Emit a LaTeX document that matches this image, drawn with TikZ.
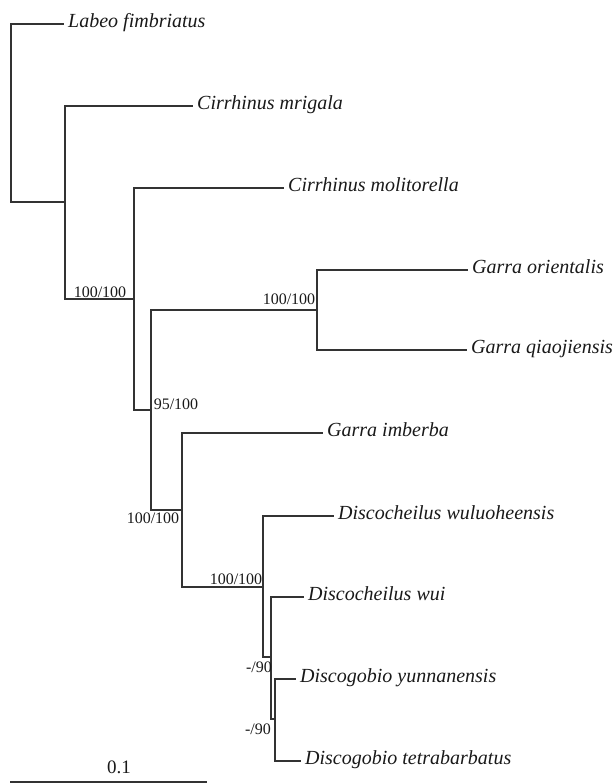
\documentclass[tikz,border=0pt]{standalone}
\usepackage{fontspec}
\setmainfont{Liberation Serif}

\tikzset{
	branch/.style={draw=black!80, line width=1.3pt, line cap=rect},
	leaf/.style={anchor=west, inner sep=5pt, text=black!90, font=\fontsize{20}{24}\selectfont\itshape, text height=12pt, text depth=5pt},
	support/.style={inner sep=0pt, text=black!90, font=\fontsize{16}{18}\selectfont, text height=10.9pt, text depth=0pt},
}

\begin{document}
\begin{tikzpicture}[x=1pt, y=-1pt]
		\useasboundingbox (0,0) rectangle (615,783);
		
		% 内部节点
		\coordinate (root) at (11,113);
		\coordinate (nA) at (65,202);
		\coordinate (nB) at (134,299);
		\coordinate (nC) at (151,410);
		\coordinate (nD) at (317,310);
		\coordinate (nE) at (182,510);
		\coordinate (nF) at (263,587);
		\coordinate (nG) at (271,657);
		\coordinate (nH) at (275,719);
		
		% 物种名
		\foreach \name/\x/\y/\txt in {labeo/63/24/Labeo fimbriatus, mrigala/192/106/Cirrhinus mrigala, molitorella/283/188/Cirrhinus molitorella, orientalis/467/270/Garra orientalis, qiaojiensis/466/350/Garra qiaojiensis, imberba/322/433/Garra imberba, wuluoheensis/333/516/Discocheilus wuluoheensis, wui/303/597/Discocheilus wui, yunnanensis/295/679/Discogobio yunnanensis, tetrabarbatus/300/761/Discogobio tetrabarbatus} {
			\node[leaf] (\name) at (\x,\y) {\txt};
		}
		
		% 分支
		\foreach \p/\c in {root/labeo, root/nA, nA/mrigala, nA/nB, nB/molitorella, nB/nC, nC/nD, nC/nE, nD/orientalis, nD/qiaojiensis, nE/imberba, nE/nF, nF/wuluoheensis, nF/nG, nG/wui, nG/nH, nH/yunnanensis, nH/tetrabarbatus} {
			\draw[branch] (\p) |- (\c);
		}
		
		% 支持率
		\node[support] (sA) at (100,292) {100/100};
		\node[support] (sB) at (176,404) {95/100};
		\node[support] (sC) at (153,518) {100/100};
		\node[support] (sD) at (289,299) {100/100};
		\node[support] (sE) at (236,579) {100/100};
		\node[support] (sF) at (259,667) {-/90};
		\node[support] (sG) at (258,729) {-/90};
		
		% 标尺
		\coordinate (barL) at (10,782);
		\coordinate (barR) at (207,782);
		\draw[branch, line cap=butt] (barL) -- (barR);
		\node[support, font=\fontsize{19}{21}\selectfont, text height=12.8pt] (scale) at (119,767) {0.1};
	\end{tikzpicture}
\end{document}
